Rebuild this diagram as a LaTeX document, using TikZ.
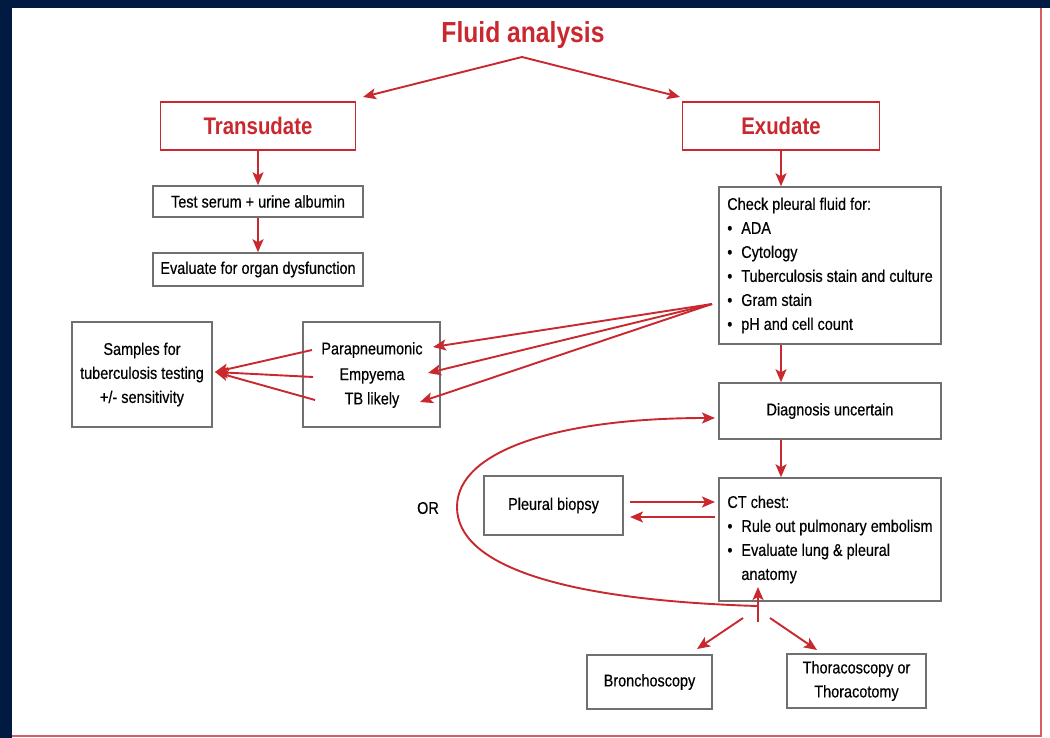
\documentclass[tikz,border=0pt]{standalone}
\usepackage{fontspec}
\setmainfont{Liberation Sans}[FakeStretch=0.85, UprightFeatures={FakeBold=0.4}]
\usetikzlibrary{arrows.meta}
\definecolor{navy}{HTML}{001A42}
\definecolor{myred}{HTML}{C8282E}
\definecolor{boxgray}{HTML}{707070}
\tikzset{
  box/.style={draw=boxgray, line width=1.5pt, inner sep=0pt, align=center,
    font=\fontsize{17}{24}\selectfont},
  redbox/.style={draw=myred, line width=1.6pt, text=myred, inner sep=0pt,
    font=\bfseries\fontsize{24}{28}\selectfont},
  txt/.style={inner sep=0pt, font=\fontsize{17}{24}\selectfont},
  arr/.style={draw=myred, line width=1.9pt, -{Stealth[length=13pt,width=11pt,inset=3pt]}},
}
\newcommand{\bul}{\makebox[14pt][l]{\textbullet}}
\begin{document}
\begin{tikzpicture}[x=1pt,y=-1pt]
\useasboundingbox (0,0) rectangle (1050,738);
\fill[navy] (0,0) rectangle (1050,738);
\fill[white] (12,8) rectangle (1050,738);
\draw[myred!75, line width=2pt] (1041,8) -- (1041,736) -- (12,736);

% title
\node[text=myred, inner sep=0pt, font=\bfseries\fontsize{29}{32}\selectfont] (title) at (523,35) {Fluid analysis};

% red boxes
\node[redbox, minimum width=195pt, minimum height=48pt] (trans) at (258,126) {Transudate};
\node[redbox, minimum width=197pt, minimum height=48pt] (exu) at (781,126) {Exudate};

% left branch
\node[box, minimum width=210pt, minimum height=31pt] (serum) at (258,201.5) {Test serum + urine albumin};
\node[box, minimum width=210pt, minimum height=33pt] (organ) at (258,269.5) {Evaluate for organ dysfunction};

% right branch
\node[box, minimum width=222pt, minimum height=157pt, align=left] (check) at (830,265.5)
 {Check pleural fluid for:\\
  \bul ADA\\
  \bul Cytology\\
  \bul Tuberculosis stain and culture\\
  \bul Gram stain\\
  \bul pH and cell count};
\node[box, minimum width=222pt, minimum height=56pt] (diag) at (830,411) {Diagnosis uncertain};
\node[box, minimum width=222pt, minimum height=123pt, align=left] (ct) at (830,539.5)
 {CT chest:\\
  \bul Rule out pulmonary embolism\\
  \bul Evaluate lung \& pleural\\
  \hspace*{14pt}anatomy\hspace*{10pt}};

% middle boxes
\node[box, minimum width=137pt, minimum height=105pt] (para) at (371.5,374.5) {};
\node[txt] (p1) at (372,350) {Parapneumonic};
\node[txt] (p2) at (372,376) {Empyema};
\node[txt] (p3) at (372,400) {TB likely};
\node[box, minimum width=140pt, minimum height=105pt] (samples) at (142,374.5)
 {Samples for\\tuberculosis testing\\+/- sensitivity};

\node[box, minimum width=139pt, minimum height=59pt] (biopsy) at (553.5,505.5) {Pleural biopsy};
\node[txt] (or) at (428,508) {OR};

\node[box, minimum width=125pt, minimum height=54pt] (bronch) at (649.5,682) {Bronchoscopy};
\node[box, minimum width=139pt, minimum height=54pt] (thora) at (856.5,681) {Thoracoscopy or\\Thoracotomy};

% coordinates
\coordinate (apex) at (522,57);
\coordinate (tl) at (363,97);
\coordinate (tr) at (680,97);
\coordinate (src) at (712,304);
\coordinate (e1) at (433,347);
\coordinate (e2) at (428,373);
\coordinate (e3) at (420,402);
\coordinate (s1) at (312,350);
\coordinate (s2) at (313,377);
\coordinate (s3) at (315,400);
\coordinate (sin) at (215,372);
\coordinate (bo1) at (630,502);
\coordinate (bo1e) at (715,502);
\coordinate (bo2) at (715,517);
\coordinate (bo2e) at (630,517);
\coordinate (vbot) at (758,622);
\coordinate (vtop) at (758,587);
\coordinate (lstart) at (757,606);
\coordinate (lend) at (715,418);
\coordinate (d1s) at (743,618);
\coordinate (d1e) at (697,649);
\coordinate (d2s) at (770,618);
\coordinate (d2e) at (817,650);

% connectors
\draw[arr] (apex) -- (tl);
\draw[arr] (apex) -- (tr);
\draw[arr] (trans.south) -- (serum.north);
\draw[arr] (serum.south) -- (organ.north);
\draw[arr] (exu.south) -- (check.north -| exu.south);
\draw[arr] (check.south -| exu.south) -- (diag.north -| exu.south);
\draw[arr] (diag.south -| exu.south) -- (ct.north -| exu.south);
\draw[arr] (src) -- (e1);
\draw[arr] (src) -- (e2);
\draw[arr] (src) -- (e3);
\draw[arr] (s1) -- (sin);
\draw[arr] (s2) -- (sin);
\draw[arr] (s3) -- (sin);
\draw[arr] (bo1) -- (bo1e);
\draw[arr] (bo2) -- (bo2e);
\draw[arr] (vbot) -- (vtop);
\draw[arr] (lstart) .. controls (560,600) and (457,565) .. (457,507)
  .. controls (457,450) and (560,418) .. (lend);
\draw[arr] (d1s) -- (d1e);
\draw[arr] (d2s) -- (d2e);
\end{tikzpicture}
\end{document}
